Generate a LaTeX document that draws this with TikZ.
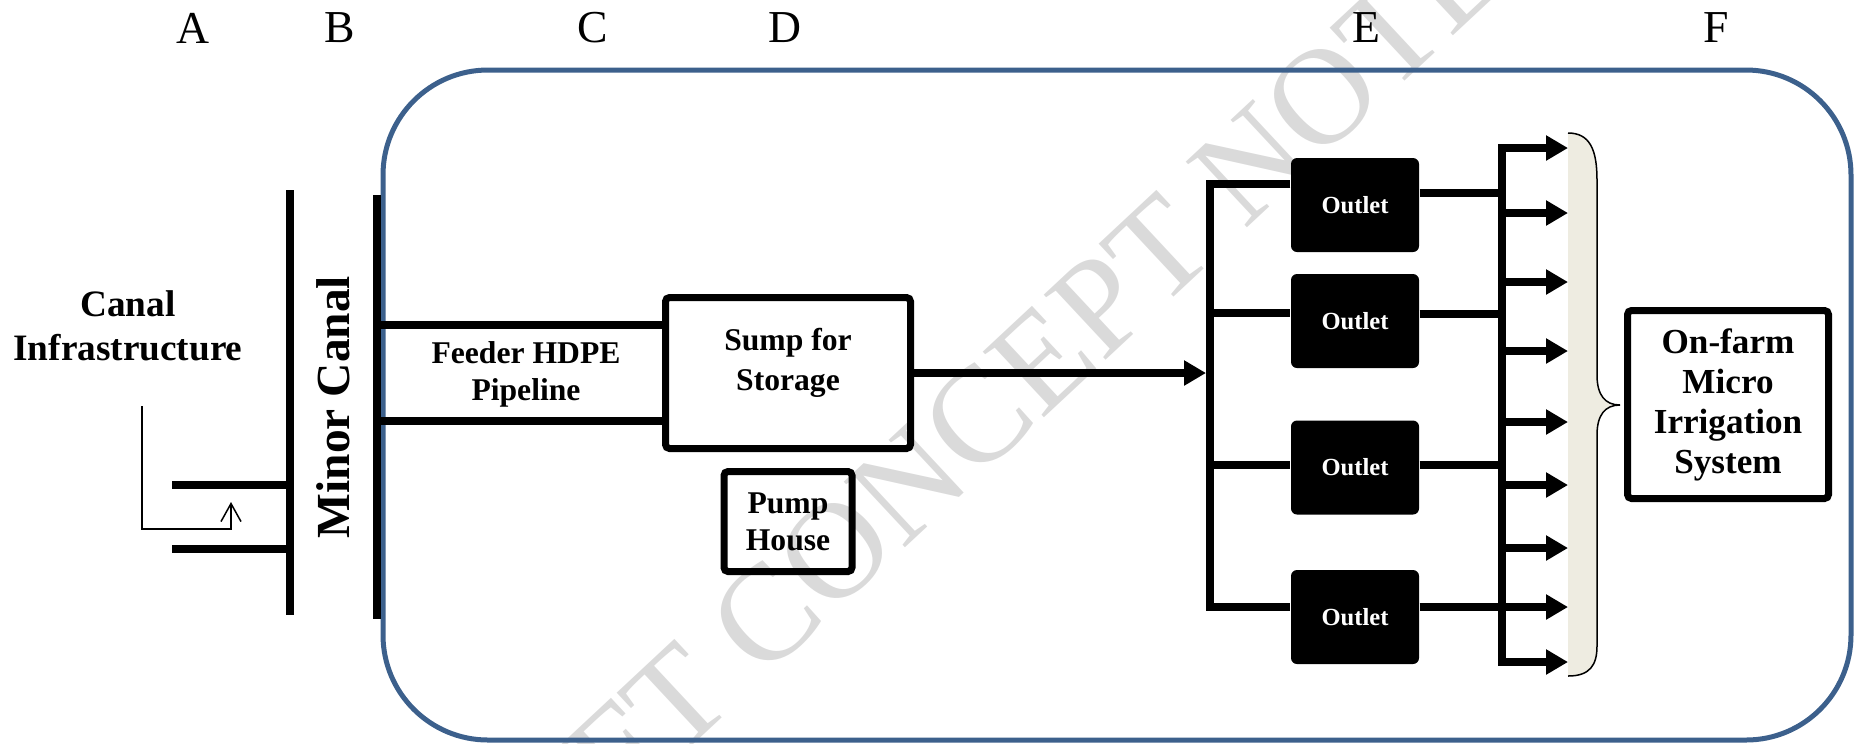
\documentclass[tikz,border=0pt]{standalone}
\usepackage{fontspec}
\setmainfont{Liberation Serif}
\usetikzlibrary{arrows.meta,positioning}

\definecolor{frameblue}{RGB}{60,96,140}
\definecolor{bracefill}{RGB}{238,236,225}
\definecolor{markgray}{RGB}{218,218,218}

\tikzset{
  pipe/.style={line width=0.8mm},
  feed/.style={pipe,-{Triangle[length=2.2mm,width=2.4mm]}},
  box/.style={draw,line width=0.7mm,rounded corners=0.4mm,inner sep=0pt,align=center,
    font=\fontsize{9}{10.6}\selectfont\bfseries},
  outletbox/.style={fill=black,rounded corners=0.6mm,minimum width=12.8mm,minimum height=9.4mm,
    text=white,font=\fontsize{7}{8}\selectfont\bfseries},
  colname/.style={font=\fontsize{13}{15}\selectfont},
}

\begin{document}
\begin{tikzpicture}[x=0.1mm,y=-0.1mm]
  \useasboundingbox (0,0) rectangle (1860,743);

  % Watermark behind everything
  \node[text=markgray,rotate=43,font=\fontsize{39}{39}\selectfont] (mark) at (930,463) {DRAFT CONCEPT NOTE};

  % Column letters
  \foreach \lab/\xpos in {A/193,B/340,C/593,D/785,E/1366,F/1716}
    \node[colname] (col\lab) at (\xpos,28) {\lab};

  % Outer frame
  \draw[frameblue,line width=0.5mm,rounded corners=10.5mm] (383,70) rectangle (1851,740);

  % Canal side
  \node[font=\fontsize{10.6}{12.5}\selectfont\bfseries,align=center] (infra) at (128,326) {Canal\\Infrastructure};
  \coordinate (ct) at (290,190);
  \coordinate (cb) at (290,615);
  \draw[pipe] (ct) -- (cb);
  \coordinate (s1) at (172,485);
  \coordinate (s2) at (172,549);
  \draw[pipe] (s1) -- (s1 -| ct);
  \draw[pipe] (s2) -- (s2 -| ct);
  \coordinate (flow) at (142,406);
  \coordinate (flowturn) at (231,529);
  \coordinate (flowend) at (231,502);
  \draw[line width=0.15mm,-{Straight Barb[length=1.8mm,width=2mm]}] (flow) |- (flowturn) -- (flowend);

  % Minor canal
  \coordinate (mt) at (377,195);
  \coordinate (mb) at (377,619);
  \draw[pipe] (mt) -- (mb);
  \node[rotate=90,font=\fontsize{13.5}{15}\selectfont\bfseries] (minor) at (333,407) {Minor Canal};

  % Sump and pump house
  \node[box,minimum width=24.5mm,minimum height=15.1mm] (sump) at (788,373) {\raisebox{1mm}[\height][\depth]{\begin{tabular}{@{}c@{}}Sump for\\[0.3mm]Storage\end{tabular}}};
  \node[box,minimum width=12.8mm,minimum height=10mm,below=1.6mm of sump] (pump) {Pump\\House};

  % Feeder pipeline
  \coordinate (f1) at (377,325);
  \coordinate (f2) at (377,421);
  \draw[pipe] (f1) -- (f1 -| sump.west);
  \draw[pipe] (f2) -- (f2 -| sump.west);
  \node[font=\fontsize{9}{10.6}\selectfont\bfseries,align=center] (feeder) at (526,374) {Feeder HDPE\\Pipeline};

  % Outlets
  \foreach \i/\ypos in {1/205,2/321,3/467.5,4/617}
    \node[outletbox] (outlet\i) at (1355,\ypos) {Outlet};

  % Distribution line to outlets
  \coordinate (et) at (1210,184);
  \coordinate (eb) at (1210,607);
  \coordinate (e2) at (1210,313);
  \coordinate (e3) at (1210,465);
  \draw[pipe] (et -| outlet1.west) -- (et) -- (eb) -- (eb -| outlet4.west);
  \draw[pipe] (e2) -- (e2 -| outlet2.west);
  \draw[pipe] (e3) -- (e3 -| outlet3.west);
  \draw[feed,shorten >=0.4mm] (sump.east) -- (sump.east -| et);

  % Outlets to field line
  \coordinate (ft) at (1502,144);
  \coordinate (fb) at (1502,666);
  \draw[pipe] (ft) -- (fb);
  \foreach \i/\ypos in {1/193,2/314,3/465,4/607} {
    \coordinate (o\i) at (1502,\ypos);
    \draw[pipe] (o\i -| outlet\i.east) -- (o\i);
  }

  % Brace
  \coordinate (brace) at (1568,405);
  \fill[bracefill] (1568,133) .. controls (1590,133) and (1597,150) .. (1597,180) -- (1597,375)
    .. controls (1597,395) and (1605,405) .. (1620,405) .. controls (1605,405) and (1597,415) .. (1597,435)
    -- (1597,646) .. controls (1597,665) and (1590,676) .. (1568,676) -- cycle;
  \draw[line width=0.15mm] (1568,133) .. controls (1590,133) and (1597,150) .. (1597,180) -- (1597,375)
    .. controls (1597,395) and (1605,405) .. (1620,405) .. controls (1605,405) and (1597,415) .. (1597,435)
    -- (1597,646) .. controls (1597,665) and (1590,676) .. (1568,676);

  % Arrows into the farm
  \foreach \ypos in {148,213,282,351,422,485,548,607,662} {
    \coordinate (a) at (1502,\ypos);
    \draw[feed] (a) -- (a -| brace);
  }

  % On-farm system
  \node[box,minimum width=20.1mm,minimum height=18.8mm,font=\fontsize{10}{11.4}\selectfont\bfseries] (farm) at (1728,404.5) {On-farm\\Micro\\Irrigation\\System};
\end{tikzpicture}
\end{document}
